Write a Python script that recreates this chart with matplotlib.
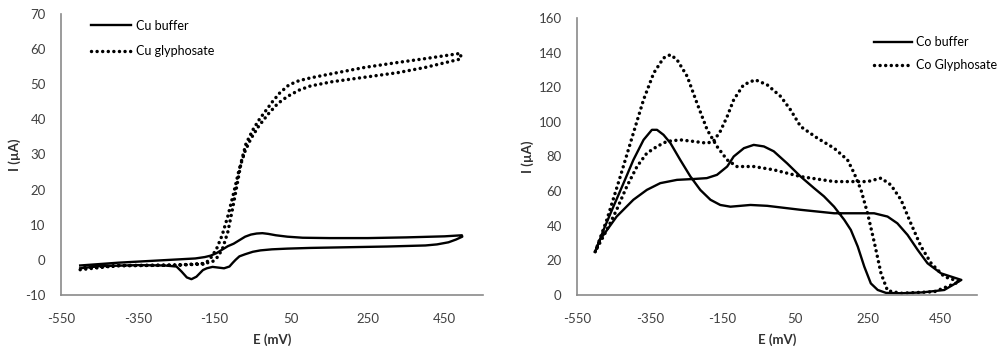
import matplotlib
matplotlib.use('Agg')
import matplotlib.pyplot as plt

plt.rcParams['font.family'] = ['Lato', 'DejaVu Sans']
plt.rcParams['axes.unicode_minus'] = False

# Cu voltammograms (closed loops, E in mV, I in uA)
e_cu_buffer = [-500, -450, -400, -350, -300, -250, -200, -175, -160, -145, -130, -115, -100, -85, -70, -55,
               -40, -25, -10, 10, 40, 80, 150, 250, 350, 450, 495,
               496, 480, 460, 430, 400, 300, 200, 100, 40, 0, -30, -50, -70, -85, -95, -102, -111, -125,
               -140, -155, -170, -180, -197, -210, -222, -236, -249, -280, -350, -450, -500]
i_cu_buffer = [-1.6, -1.2, -0.8, -0.5, -0.2, 0.1, 0.4, 0.8, 1.2, 1.9, 2.9, 3.9, 4.6, 5.6, 6.6, 7.2,
               7.5, 7.6, 7.4, 7.0, 6.6, 6.3, 6.2, 6.2, 6.4, 6.7, 7.0,
               6.6, 5.8, 5.0, 4.4, 4.1, 3.8, 3.6, 3.4, 3.2, 3.0, 2.7, 2.3, 1.6, 1.0, 0.0, -0.8, -1.9, -2.4,
               -2.2, -2.0, -2.4, -2.9, -4.8, -5.5, -5.0, -3.3, -1.9, -1.6, -1.5, -1.8, -2.4]

e_cu_gly = [-500, -400, -250, -175, -160, -145, -130, -115, -100, -85, -70, -55, -35, -10, 15, 40, 70, 100,
            156, 242, 328, 400, 492,
            492, 400, 328, 242, 156, 100, 70, 44, 20, 1, -16, -33, -50, -68, -80, -90, -102, -115, -128,
            -140, -155, -175, -250, -400, -500]
i_cu_gly = [-2.8, -1.6, -1.5, -1.2, 0.5, 3.0, 7.0, 12.5, 19.0, 26.0, 31.0, 34.5, 38.0, 41.5, 44.5, 46.5, 48.3, 49.5,
            50.7, 52.0, 53.3, 54.8, 57.2,
            58.8, 57.3, 56.2, 54.8, 53.0, 51.8, 51.0, 49.8, 47.5, 45.0, 42.5, 40.0, 37.0, 33.0, 28.0, 22.0, 15.0, 8.0, 3.5,
            1.0, -0.5, -1.0, -1.5, -1.7, -2.2]

# Co voltammograms
e_co_buffer = [-500, -477, -450, -422, -395, -367, -344, -330, -312, -293, -266, -238, -211, -183, -156, -128,
               -73, -27, 65, 157, 203, 267, 304, 331, 359, 387, 414, 451, 507,
               460, 400, 341, 300, 277, 258, 240, 222, 203, 185, 157, 129, 102, 65, 28, -9, -36, -64, -91,
               -119, -137, -165, -193, -229, -275, -321, -358, -395, -441, -487, -500]
i_co_buffer = [25, 37.6, 51, 64.6, 78, 89.6, 95.4, 95.4, 92.5, 87.7, 78, 68.4, 60.7, 55, 52, 51,
               52, 51.5, 49.2, 47.2, 47.2, 47.2, 45.3, 41.4, 34.7, 26, 18.3, 12.5, 8.7,
               2.9, 1.5, 1.0, 1.2, 2.9, 6.7, 16.4, 28, 37.6, 43.4, 51, 57, 61.7, 68.4, 76, 83, 85.8, 86.7, 84.8,
               80, 74.2, 69.4, 67.5, 67, 66.5, 64.6, 60.7, 55, 45.3, 31.8, 25]

e_co_gly = [-500, -468, -431, -395, -367, -339, -312, -293, -275, -247, -220, -192, -165, -137, -110, -64, -9,
            65, 157, 249, 286, 313, 341, 368, 396, 424, 460, 502,
            433, 341, 304, 286, 268, 249, 231, 212, 194, 157, 111, 65, 37, 10, -27, -60, -92, -119, -137,
            -156, -175, -193, -229, -266, -303, -330, -358, -385, -413, -441, -468, -500]
i_co_gly = [25, 43.4, 68.4, 93.5, 112.8, 128.2, 136.9, 138.8, 135.9, 126.3, 110.8, 95.4, 85.8, 78, 74.2, 74.2, 72.3,
            68.4, 65.5, 65.5, 67.5, 63.6, 55, 41.4, 28, 18.3, 10.6, 7.7,
            1.9, 1.0, 2.5, 12.5, 30, 47.2, 60.7, 70.4, 78, 84.8, 90.6, 97.3, 107, 114.7, 121.4, 124.3, 121.4, 112.8, 103.1,
            94.5, 88.7, 87.7, 88.7, 89.6, 88.7, 85.8, 81.9, 74.2, 62.7, 49.2, 37.6, 25]

x_ticks = [-550, -350, -150, 50, 250, 450]


def style_axes(ax, ylim, yticks):
    ax.set_xlim(-550, 550)
    ax.set_ylim(*ylim)
    ax.set_xticks(x_ticks)
    ax.set_yticks(yticks)
    for s in ['top', 'right']:
        ax.spines[s].set_visible(False)
    for s in ['left', 'bottom']:
        ax.spines[s].set_color('#8a8a8a')
        ax.spines[s].set_linewidth(1.2)
    ax.tick_params(length=0, labelsize=9.5, colors='#404040')
    ax.tick_params(axis='x', pad=13)
    ax.tick_params(axis='y', pad=11)
    ax.set_xlabel('E (mV)', fontsize=9.5, fontweight='bold', color='#303030', labelpad=6)
    ax.set_ylabel('I (µA)', fontsize=9.5, fontweight='bold', color='#303030', labelpad=3)


fig = plt.figure(figsize=(10, 3.54), dpi=100)
ax1 = fig.add_axes([0.061, 0.1667, 0.422, 0.7938])
ax2 = fig.add_axes([0.577, 0.1667, 0.400, 0.7825])

dot = (0, (0.01, 1.6))

ax1.plot(e_cu_buffer, i_cu_buffer, color='black', lw=1.7, label='Cu buffer')
ax1.plot(e_cu_gly, i_cu_gly, color='black', lw=2.5, linestyle=dot, dash_capstyle='round', label='Cu glyphosate')
style_axes(ax1, (-10, 70), range(-10, 71, 10))
ax1.legend(loc='upper left', bbox_to_anchor=(0.045, 1.02), frameon=False, fontsize=9,
           handlelength=3.2, labelspacing=1.1, handletextpad=0.4)

ax2.plot(e_co_buffer, i_co_buffer, color='black', lw=1.7, label='Co buffer')
ax2.plot(e_co_gly, i_co_gly, color='black', lw=2.5, linestyle=dot, dash_capstyle='round', label='Co Glyphosate')
style_axes(ax2, (0, 160), range(0, 161, 20))
ax2.legend(loc='upper left', bbox_to_anchor=(0.715, 0.975), frameon=False, fontsize=9,
           handlelength=3.0, labelspacing=0.9, handletextpad=0.3)

fig.savefig('out.png', dpi=100)
